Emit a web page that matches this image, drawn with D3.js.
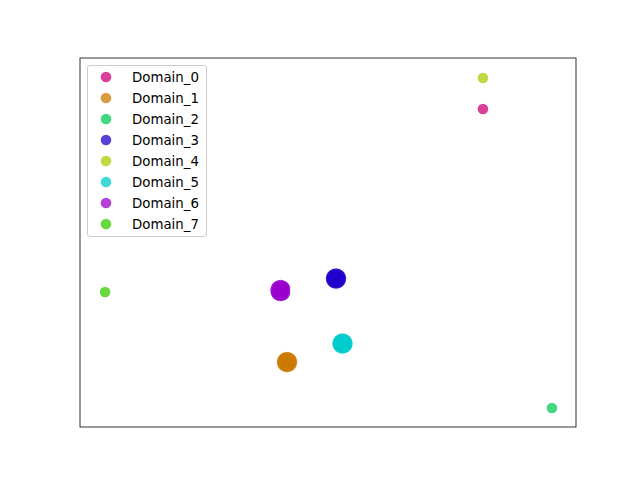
<!DOCTYPE html>
<html><head><meta charset="utf-8">
<script src="https://d3js.org/d3.v7.min.js"></script>
<style>body{margin:0;background:#fff}svg{display:block}</style>
</head><body>
<script>
const domains = ["Domain_0","Domain_1","Domain_2","Domain_3","Domain_4","Domain_5","Domain_6","Domain_7"];
const colors = ["#cc0077","#cc7a00","#00cc55","#2200cc","#aacc00","#00cccc","#9900cc","#33cc00"];
// points per domain: [x, y] in embedding units
const pts0 = [[15.5, 14.1]];
const pts1 = [[-4.1,-11.2],[-4.45,-10.85],[-3.75,-10.85],[-4.45,-11.55],[-3.75,-11.55],[-4.1,-10.7],[-4.1,-11.7],[-4.6,-11.2],[-3.6,-11.2],[-4.3,-11.0],[-3.9,-11.4],[-4.0,-10.9],
              [-4.3,-10.75],[-3.9,-10.75],[-4.3,-11.65],[-3.9,-11.65],[-4.55,-11.0],[-4.55,-11.4],[-3.65,-11.0],[-3.65,-11.4]];
const pts2 = [[22.4,-15.8]];
const pts3 = [[0.8,-2.85],[0.45,-2.5],[1.15,-2.5],[0.45,-3.2],[1.15,-3.2],[0.8,-2.35],[0.8,-3.35],[0.3,-2.85],[1.3,-2.85],[0.6,-2.7],[1.0,-3.0],[0.7,-3.1],
              [0.6,-2.4],[1.0,-2.4],[0.6,-3.3],[1.0,-3.3],[0.35,-2.65],[0.35,-3.05],[1.25,-2.65],[1.25,-3.05]];
const pts4 = [[15.5,17.2]];
const pts5 = [[1.45,-9.35],[1.1,-9.0],[1.8,-9.0],[1.1,-9.7],[1.8,-9.7],[1.45,-8.85],[1.45,-9.85],[0.95,-9.35],[1.95,-9.35],[1.3,-9.2],[1.6,-9.5],[1.4,-9.0],
              [1.25,-8.9],[1.65,-8.9],[1.25,-9.8],[1.65,-9.8],[1.0,-9.15],[1.0,-9.55],[1.9,-9.15],[1.9,-9.55]];
const pts6 = [[-4.75,-4.05],[-5.1,-3.65],[-4.4,-3.65],[-5.1,-4.45],[-4.4,-4.45],[-4.75,-3.5],[-4.75,-4.6],[-5.25,-4.05],[-4.3,-4.05],[-4.9,-3.9],[-4.6,-4.3],[-4.8,-4.4],
              [-4.95,-3.55],[-4.55,-3.55],[-4.95,-4.55],[-4.55,-4.55],[-5.2,-3.8],[-5.2,-4.3],[-4.3,-3.8],[-4.3,-4.3]];
const pts7 = [[-22.3,-4.2]];
const series = [pts0,pts1,pts2,pts3,pts4,pts5,pts6,pts7];

const W = 640, H = 480;
const L = 80, R = 576, T = 58, B = 427;
const svg = d3.select("body").append("svg").attr("width", W).attr("height", H);

const all = series.flat();
const xe = d3.extent(all, d => d[0]), ye = d3.extent(all, d => d[1]);
const xp = (xe[1]-xe[0])*0.055, yp = (ye[1]-ye[0])*0.059;
const x = d3.scaleLinear().domain([xe[0]-xp, xe[1]+xp]).range([L + 0.5, R + 0.5]);
const y = d3.scaleLinear().domain([ye[0]-yp, ye[1]+yp]).range([B + 0.5, T + 0.5]);

const g = svg.append("g");
series.forEach((pts, i) => {
  g.selectAll(null).data(pts).enter().append("circle")
    .attr("cx", d => x(d[0])).attr("cy", d => y(d[1])).attr("r", 5.3)
    .attr("fill", colors[i]).attr("fill-opacity", 0.75);
});

svg.append("rect").attr("x", L).attr("y", T).attr("width", R-L).attr("height", B-T)
  .attr("fill", "none").attr("stroke", "#000").attr("stroke-width", 0.8);

// legend
const lg = svg.append("g");
lg.append("rect").attr("x", 87.5).attr("y", 65.5).attr("width", 119).attr("height", 171)
  .attr("rx", 2.5).attr("fill", "#fff").attr("fill-opacity", 0.8)
  .attr("stroke", "#cccccc").attr("stroke-width", 1);
domains.forEach((name, i) => {
  const cy = 77 + i * 21;
  lg.append("circle").attr("cx", 106).attr("cy", cy).attr("r", 5.3)
    .attr("fill", colors[i]).attr("fill-opacity", 0.75);
  lg.append("text").attr("x", 132).attr("y", cy).attr("dy", "0.36em")
    .attr("font-family", "DejaVu Sans").attr("font-size", "13.33px").attr("fill", "#000")
    .text(name);
});
</script>
</body></html>
